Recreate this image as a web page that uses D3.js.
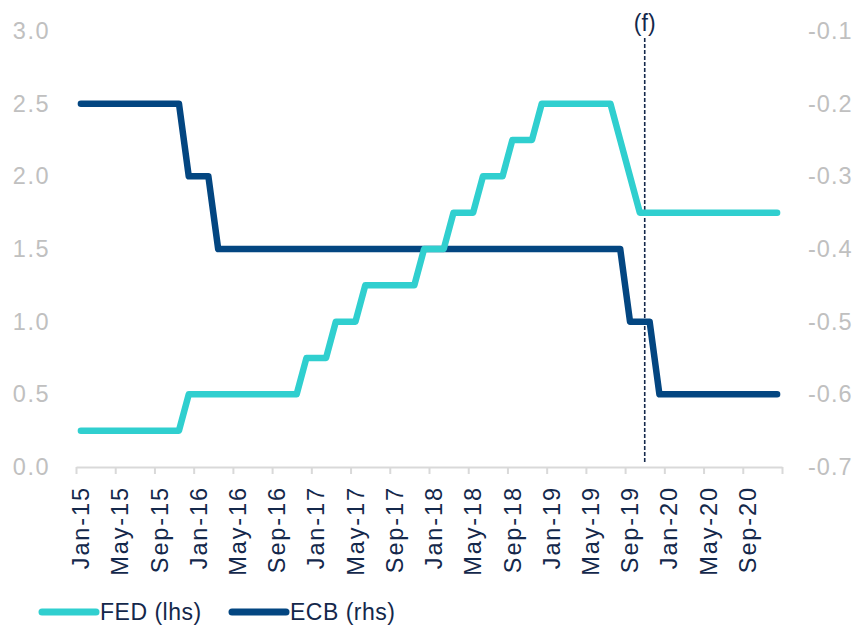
<!DOCTYPE html>
<html><head><meta charset="utf-8">
<script src="https://cdn.jsdelivr.net/npm/d3@7"></script>
<style>
body{margin:0;background:#fff;}
svg{display:block;font-family:"Liberation Sans",Arial,sans-serif;}
</style></head>
<body><svg id="c" width="858" height="626"></svg>
<script>
const months = [
 "Jan-15","Feb-15","Mar-15","Apr-15","May-15","Jun-15","Jul-15","Aug-15","Sep-15","Oct-15","Nov-15","Dec-15",
 "Jan-16","Feb-16","Mar-16","Apr-16","May-16","Jun-16","Jul-16","Aug-16","Sep-16","Oct-16","Nov-16","Dec-16",
 "Jan-17","Feb-17","Mar-17","Apr-17","May-17","Jun-17","Jul-17","Aug-17","Sep-17","Oct-17","Nov-17","Dec-17",
 "Jan-18","Feb-18","Mar-18","Apr-18","May-18","Jun-18","Jul-18","Aug-18","Sep-18","Oct-18","Nov-18","Dec-18",
 "Jan-19","Feb-19","Mar-19","Apr-19","May-19","Jun-19","Jul-19","Aug-19","Sep-19","Oct-19","Nov-19","Dec-19",
 "Jan-20","Feb-20","Mar-20","Apr-20","May-20","Jun-20","Jul-20","Aug-20","Sep-20","Oct-20","Nov-20","Dec-20"
];
const fed = [
 0.25,0.25,0.25,0.25,0.25,0.25,0.25,0.25,0.25,0.25,0.25,0.5,
 0.5,0.5,0.5,0.5,0.5,0.5,0.5,0.5,0.5,0.5,0.5,0.75,
 0.75,0.75,1.0,1.0,1.0,1.25,1.25,1.25,1.25,1.25,1.25,1.5,
 1.5,1.5,1.75,1.75,1.75,2.0,2.0,2.0,2.25,2.25,2.25,2.5,
 2.5,2.5,2.5,2.5,2.5,2.5,2.5,2.25,2.0,1.75,1.75,1.75,
 1.75,1.75,1.75,1.75,1.75,1.75,1.75,1.75,1.75,1.75,1.75,1.75
];
const ecb = [
 -0.2,-0.2,-0.2,-0.2,-0.2,-0.2,-0.2,-0.2,-0.2,-0.2,-0.2,-0.3,
 -0.3,-0.3,-0.4,-0.4,-0.4,-0.4,-0.4,-0.4,-0.4,-0.4,-0.4,-0.4,
 -0.4,-0.4,-0.4,-0.4,-0.4,-0.4,-0.4,-0.4,-0.4,-0.4,-0.4,-0.4,
 -0.4,-0.4,-0.4,-0.4,-0.4,-0.4,-0.4,-0.4,-0.4,-0.4,-0.4,-0.4,
 -0.4,-0.4,-0.4,-0.4,-0.4,-0.4,-0.4,-0.4,-0.5,-0.5,-0.5,-0.6,
 -0.6,-0.6,-0.6,-0.6,-0.6,-0.6,-0.6,-0.6,-0.6,-0.6,-0.6,-0.6
];
const leftTicks = [0,0.5,1.0,1.5,2.0,2.5,3.0];
const rightTicks = [-0.7,-0.6,-0.5,-0.4,-0.3,-0.2,-0.1];
const forecastMonth = "Nov-19";
const forecastLabel = "(f)";
const seriesNames = ["FED (lhs)","ECB (rhs)"];

const FED_C = "#30cfcf", ECB_C = "#034681", NAVY = "#14284b", GREY = "#c0c0c0", AXIS = "#d9d9d9";
const svg = d3.select("#c");
const L = 76, R = 782, T = 31, B = 467;
const fmt = d => d.toFixed(1);

const x = d3.scaleLinear().domain([0, months.length]).range([L, R]);
const yL = d3.scaleLinear().domain([0, 3]).range([B, T]);
const yR = d3.scaleLinear().domain([-0.7, -0.1]).range([B, T]);
const xc = i => x(i + 0.5);

// x axis (ticks)
const tickIdx = d3.range(0, months.length + 1, 4);
const xa = svg.append("g").attr("transform", `translate(0,${B})`)
  .call(d3.axisBottom(x).tickValues(tickIdx).tickFormat("").tickSize(7).tickSizeOuter(0));
xa.select(".domain").attr("stroke", AXIS).attr("stroke-width", 2);
xa.selectAll(".tick line").attr("stroke", AXIS).attr("stroke-width", 2);

// x labels
const labIdx = d3.range(0, months.length, 4);
svg.append("g").selectAll("text").data(labIdx).join("text")
  .attr("transform", i => `translate(${xc(i)},${B + 19}) rotate(-90)`)
  .attr("text-anchor", "end").attr("dy", "0.35em")
  .attr("font-size", 23.5).attr("letter-spacing", "1.9px").attr("fill", NAVY)
  .text(i => months[i]);

// left axis
const la = svg.append("g").attr("transform", `translate(${L},0)`)
  .call(d3.axisLeft(yL).tickValues(leftTicks).tickFormat(fmt).tickSize(0).tickPadding(26));
la.select(".domain").remove();
la.selectAll("text").attr("font-size", 23.5).attr("letter-spacing", "1.5px").attr("fill", GREY).attr("font-family", "Liberation Sans, Arial, sans-serif");

// right axis
const ra = svg.append("g").attr("transform", `translate(${R},0)`)
  .call(d3.axisRight(yR).tickValues(rightTicks).tickFormat(fmt).tickSize(0).tickPadding(26));
ra.select(".domain").remove();
ra.selectAll("text").attr("font-size", 23.5).attr("letter-spacing", "1px").attr("fill", GREY).attr("font-family", "Liberation Sans, Arial, sans-serif");

// forecast line
const fx = x(months.indexOf(forecastMonth));
svg.append("line").attr("x1", fx).attr("x2", fx).attr("y1", 38).attr("y2", B - 5)
  .attr("stroke", NAVY).attr("stroke-width", 1.6).attr("stroke-dasharray", "4,2");
svg.append("text").attr("x", fx).attr("y", 31).attr("text-anchor", "middle")
  .attr("font-size", 23).attr("fill", NAVY).text(forecastLabel);

// lines
const fedLine = d3.line().x((d, i) => xc(i)).y(d => yL(d));
const ecbLine = d3.line().x((d, i) => xc(i)).y(d => yR(d));
svg.append("path").datum(ecb).attr("d", ecbLine).attr("fill", "none")
  .attr("stroke", ECB_C).attr("stroke-width", 6.5).attr("stroke-linecap", "round").attr("stroke-linejoin", "round");
svg.append("path").datum(fed).attr("d", fedLine).attr("fill", "none")
  .attr("stroke", FED_C).attr("stroke-width", 6.5).attr("stroke-linecap", "round").attr("stroke-linejoin", "round");

// legend
const leg = [{n: seriesNames[0], c: FED_C, x: 42}, {n: seriesNames[1], c: ECB_C, x: 232}];
const lg = svg.append("g");
leg.forEach(d => {
  lg.append("line").attr("x1", d.x).attr("x2", d.x + 54).attr("y1", 612).attr("y2", 612)
    .attr("stroke", d.c).attr("stroke-width", 7).attr("stroke-linecap", "round");
  lg.append("text").attr("x", d.x + 58).attr("y", 612).attr("dy", "0.36em")
    .attr("font-size", 23).attr("letter-spacing", "0.5px").attr("fill", NAVY).text(d.n);
});
</script></body></html>
